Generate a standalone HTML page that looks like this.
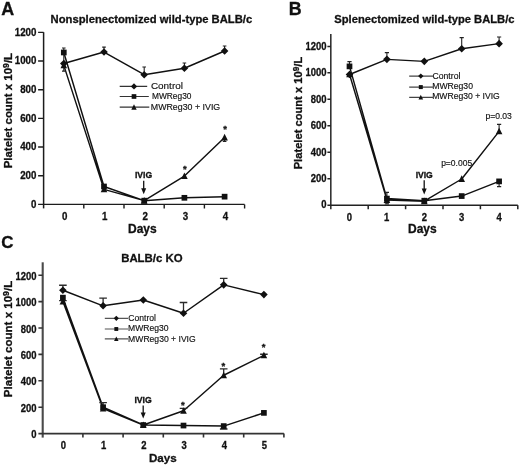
<!DOCTYPE html>
<html><head><meta charset="utf-8"><style>
html,body{margin:0;padding:0;background:#fff;}
body{width:520px;height:467px;overflow:hidden;}
svg{display:block;font-family:"Liberation Sans", sans-serif;filter:grayscale(1);}
</style></head><body>
<svg width="520" height="467" viewBox="0 0 520 467" font-family='"Liberation Sans", sans-serif'>
<rect width="520" height="467" fill="#fff"/>
<path stroke="#1c1c1c" stroke-width="1.5" fill="none" d="M43.6 32.2V208.4"/>
<path stroke="#1c1c1c" stroke-width="1.4" fill="none" d="M43.6 204.4H244.6 M83.8 204.4V208.4 M124 204.4V208.4 M164.2 204.4V208.4 M204.4 204.4V208.4 M244.6 204.4V208.4 M38.1 204.4H43.6 M38.1 175.73H43.6 M38.1 147.07H43.6 M38.1 118.4H43.6 M38.1 89.74H43.6 M38.1 61.07H43.6 M38.1 32.4H43.6"/>
<text x="30.99" y="207.65" font-size="10.7" font-weight="bold" stroke-width="0.3" textLength="5.42" lengthAdjust="spacingAndGlyphs" fill="#111" stroke="#111">0</text>
<text x="20.18" y="178.98" font-size="10.7" font-weight="bold" stroke-width="0.3" textLength="16.25" lengthAdjust="spacingAndGlyphs" fill="#111" stroke="#111">200</text>
<text x="20.18" y="150.31" font-size="10.7" font-weight="bold" stroke-width="0.3" textLength="16.25" lengthAdjust="spacingAndGlyphs" fill="#111" stroke="#111">400</text>
<text x="20.18" y="121.65" font-size="10.7" font-weight="bold" stroke-width="0.3" textLength="16.25" lengthAdjust="spacingAndGlyphs" fill="#111" stroke="#111">600</text>
<text x="20.18" y="92.98" font-size="10.7" font-weight="bold" stroke-width="0.3" textLength="16.25" lengthAdjust="spacingAndGlyphs" fill="#111" stroke="#111">800</text>
<text x="14.72" y="64.31" font-size="10.7" font-weight="bold" stroke-width="0.3" textLength="21.66" lengthAdjust="spacingAndGlyphs" fill="#111" stroke="#111">1000</text>
<text x="14.72" y="35.65" font-size="10.7" font-weight="bold" stroke-width="0.3" textLength="21.66" lengthAdjust="spacingAndGlyphs" fill="#111" stroke="#111">1200</text>
<text x="62" y="219.7" font-size="10.7" font-weight="bold" stroke-width="0.3" textLength="5.42" lengthAdjust="spacingAndGlyphs" fill="#111" stroke="#111">0</text>
<text x="102" y="219.7" font-size="10.7" font-weight="bold" stroke-width="0.3" textLength="5.42" lengthAdjust="spacingAndGlyphs" fill="#111" stroke="#111">1</text>
<text x="142.42" y="219.7" font-size="10.7" font-weight="bold" stroke-width="0.3" textLength="5.42" lengthAdjust="spacingAndGlyphs" fill="#111" stroke="#111">2</text>
<text x="182.65" y="219.7" font-size="10.7" font-weight="bold" stroke-width="0.3" textLength="5.42" lengthAdjust="spacingAndGlyphs" fill="#111" stroke="#111">3</text>
<text x="222.75" y="219.7" font-size="10.7" font-weight="bold" stroke-width="0.3" textLength="5.42" lengthAdjust="spacingAndGlyphs" fill="#111" stroke="#111">4</text>
<text x="128.02" y="232.7" font-size="11.99" font-weight="bold" stroke-width="0.3" fill="#111" stroke="#111">Days</text>
<text transform="translate(12.2 168.34) rotate(-90)" font-size="11.45" font-weight="bold" fill="#111" stroke="#111" stroke-width="0.3">Platelet count x 10<tspan font-size="8.59" dy="-3.44">9</tspan><tspan dy="3.44">/L</tspan></text>
<text x="50.57" y="22.7" font-size="11.24" font-weight="bold" stroke-width="0.3" fill="#111" stroke="#111">Nonsplenectomized wild-type BALB/c</text>
<text x="1.25" y="14.6" font-size="17.91" font-weight="bold" stroke-width="0.3" fill="#111" stroke="#111">A</text>
<path stroke="#111" stroke-width="1.45" fill="none" stroke-linejoin="round" d="M63.8 63.51L104 52.04L144.2 74.69L184.4 68.24L224.6 51.04 M63.8 52.47L104 186.48L144.2 200.67L184.4 197.81L224.6 196.66 M63.8 65.37L104 189.35L144.2 200.67L184.4 176.02L224.6 137.46"/>
<path stroke="#222" stroke-width="1.1" fill="none" d="M63.8 63.51V48.03M62 48.03h3.6 M104 52.04V47.17M102.2 47.17h3.6 M144.2 74.69V66.95M142.4 66.95h3.6 M184.4 68.24V62.93M182.6 62.93h3.6 M224.6 51.04V46.02M222.8 46.02h3.6 M63.8 66.8V71.1M62 71.1h3.6 M224.6 137.46V141.33M222.8 141.33h3.6"/>
<g fill="#111"><path d="M60 63.51L63.8 59.71L67.6 63.51L63.8 67.31Z"/><path d="M100.2 52.04L104 48.24L107.8 52.04L104 55.84Z"/><path d="M140.4 74.69L144.2 70.89L148 74.69L144.2 78.49Z"/><path d="M180.6 68.24L184.4 64.44L188.2 68.24L184.4 72.04Z"/><path d="M220.8 51.04L224.6 47.24L228.4 51.04L224.6 54.84Z"/><rect x="60.95" y="49.62" width="5.7" height="5.7"/><rect x="101.15" y="183.63" width="5.7" height="5.7"/><rect x="141.35" y="197.82" width="5.7" height="5.7"/><rect x="181.55" y="194.96" width="5.7" height="5.7"/><rect x="221.75" y="193.81" width="5.7" height="5.7"/><path d="M60.5 68.34L67.1 68.34L63.8 61.74Z"/><path d="M100.7 192.32L107.3 192.32L104 185.72Z"/><path d="M140.9 203.64L147.5 203.64L144.2 197.04Z"/><path d="M181.1 178.99L187.7 178.99L184.4 172.39Z"/><path d="M221.3 140.43L227.9 140.43L224.6 133.83Z"/></g>
<path stroke="#333" stroke-width="1.2" fill="none" d="M119.7 86.4H147.2 M119.7 96.5H148.8 M119.7 107.2H149.3"/>
<g fill="#111"><path d="M130.88 86.4L134 83.28L137.12 86.4L134 89.52Z"/><rect x="131.66" y="94.16" width="4.67" height="4.67"/><path d="M131.29 109.64L136.71 109.64L134 104.22Z"/></g>
<text x="150.9" y="89.4" font-size="9.95" stroke-width="0.15" fill="#111" stroke="#111">Control</text>
<text x="152.03" y="99.4" font-size="8.36" stroke-width="0.15" fill="#111" stroke="#111">MWReg30</text>
<text x="150.79" y="110" font-size="8.83" stroke-width="0.15" fill="#111" stroke="#111">MWReg30 + IVIG</text>
<text x="134.94" y="177.9" font-size="8.64" font-weight="bold" stroke-width="0.3" fill="#111" stroke="#111">IVIG</text>
<path stroke="#111" stroke-width="1.3" d="M143.7 180.7V190.3"/>
<path fill="#111" d="M141.2 188.3L146.2 188.3L143.7 194.3Z"/>
<text x="182.95" y="171.8" font-size="9.5" font-weight="bold" stroke-width="0.3" fill="#111" stroke="#111">*</text>
<text x="223.15" y="131.7" font-size="9.5" font-weight="bold" stroke-width="0.3" fill="#111" stroke="#111">*</text>
<path stroke="#333" stroke-width="1.6" fill="none" d="M330.8 34V209.2"/>
<path stroke="#222" stroke-width="1.5" fill="none" d="M330.8 205.2H517.8 M368.2 205.2V209.2 M405.6 205.2V209.2 M443 205.2V209.2 M480.4 205.2V209.2 M517.8 205.2V209.2 M327.4 205.2H330.8 M327.4 178.73H330.8 M327.4 152.27H330.8 M327.4 125.8H330.8 M327.4 99.34H330.8 M327.4 72.87H330.8 M327.4 46.4H330.8"/>
<text x="321.23" y="208.44" font-size="10.4" font-weight="bold" stroke-width="0.3" textLength="5.26" lengthAdjust="spacingAndGlyphs" fill="#111" stroke="#111">0</text>
<text x="310.72" y="181.97" font-size="10.4" font-weight="bold" stroke-width="0.3" textLength="15.79" lengthAdjust="spacingAndGlyphs" fill="#111" stroke="#111">200</text>
<text x="310.72" y="155.51" font-size="10.4" font-weight="bold" stroke-width="0.3" textLength="15.79" lengthAdjust="spacingAndGlyphs" fill="#111" stroke="#111">400</text>
<text x="310.72" y="129.04" font-size="10.4" font-weight="bold" stroke-width="0.3" textLength="15.79" lengthAdjust="spacingAndGlyphs" fill="#111" stroke="#111">600</text>
<text x="310.72" y="102.58" font-size="10.4" font-weight="bold" stroke-width="0.3" textLength="15.79" lengthAdjust="spacingAndGlyphs" fill="#111" stroke="#111">800</text>
<text x="305.42" y="76.11" font-size="10.4" font-weight="bold" stroke-width="0.3" textLength="21.05" lengthAdjust="spacingAndGlyphs" fill="#111" stroke="#111">1000</text>
<text x="305.42" y="49.64" font-size="10.4" font-weight="bold" stroke-width="0.3" textLength="21.05" lengthAdjust="spacingAndGlyphs" fill="#111" stroke="#111">1200</text>
<text x="346.87" y="221" font-size="10.4" font-weight="bold" stroke-width="0.3" textLength="5.26" lengthAdjust="spacingAndGlyphs" fill="#111" stroke="#111">0</text>
<text x="384.08" y="221" font-size="10.4" font-weight="bold" stroke-width="0.3" textLength="5.26" lengthAdjust="spacingAndGlyphs" fill="#111" stroke="#111">1</text>
<text x="421.7" y="221" font-size="10.4" font-weight="bold" stroke-width="0.3" textLength="5.26" lengthAdjust="spacingAndGlyphs" fill="#111" stroke="#111">2</text>
<text x="459.12" y="221" font-size="10.4" font-weight="bold" stroke-width="0.3" textLength="5.26" lengthAdjust="spacingAndGlyphs" fill="#111" stroke="#111">3</text>
<text x="496.43" y="221" font-size="10.4" font-weight="bold" stroke-width="0.3" textLength="5.26" lengthAdjust="spacingAndGlyphs" fill="#111" stroke="#111">4</text>
<text x="408.02" y="232.7" font-size="11.99" font-weight="bold" stroke-width="0.3" fill="#111" stroke="#111">Days</text>
<text transform="translate(302.4 169.33) rotate(-90)" font-size="11.17" font-weight="bold" fill="#111" stroke="#111" stroke-width="0.3">Platelet count x 10<tspan font-size="8.38" dy="-3.35">9</tspan><tspan dy="3.35">/L</tspan></text>
<text x="334.26" y="23.1" font-size="11.19" font-weight="bold" stroke-width="0.3" fill="#111" stroke="#111">Splenectomized wild-type BALB/c</text>
<text x="288.84" y="14.5" font-size="17.87" font-weight="bold" stroke-width="0.3" fill="#111" stroke="#111">B</text>
<path stroke="#111" stroke-width="1.45" fill="none" stroke-linejoin="round" d="M349.5 74.46L386.9 59.37L424.3 61.36L461.7 48.79L499.1 43.63 M349.5 66.39L386.9 198.58L424.3 200.7L461.7 196.07L499.1 181.38 M349.5 74.19L386.9 199.91L424.3 201.23L461.7 179L499.1 131.36"/>
<path stroke="#222" stroke-width="1.1" fill="none" d="M349.5 66.39V61.62M347.4 61.62h4.2 M386.9 59.37V52.62M384.8 52.62h4.2 M461.7 48.79V37.67M459.6 37.67h4.2 M499.1 43.63V37.01M497 37.01h4.2 M499.1 131.36V124.35M497 124.35h4.2 M499.1 181.38V186.67M497 186.67h4.2 M386.9 199.91V203.88M384.8 203.88h4.2 M386.9 198.58V192.36M384.8 192.36h4.2"/>
<g fill="#111"><path d="M345.7 74.46L349.5 70.66L353.3 74.46L349.5 78.26Z"/><path d="M383.1 59.37L386.9 55.57L390.7 59.37L386.9 63.17Z"/><path d="M420.5 61.36L424.3 57.56L428.1 61.36L424.3 65.16Z"/><path d="M457.9 48.79L461.7 44.99L465.5 48.79L461.7 52.59Z"/><path d="M495.3 43.63L499.1 39.83L502.9 43.63L499.1 47.43Z"/><rect x="346.65" y="63.54" width="5.7" height="5.7"/><rect x="384.05" y="195.73" width="5.7" height="5.7"/><rect x="421.45" y="197.85" width="5.7" height="5.7"/><rect x="458.85" y="193.22" width="5.7" height="5.7"/><rect x="496.25" y="178.53" width="5.7" height="5.7"/><path d="M346.2 77.16L352.8 77.16L349.5 70.56Z"/><path d="M383.6 202.88L390.2 202.88L386.9 196.28Z"/><path d="M421 204.2L427.6 204.2L424.3 197.6Z"/><path d="M458.4 181.97L465 181.97L461.7 175.37Z"/><path d="M495.8 134.33L502.4 134.33L499.1 127.73Z"/></g>
<path stroke="#444" stroke-width="1.2" fill="none" d="M409.2 76.1H432.9 M409.2 87.1H432.9 M409.2 97.4H432.9"/>
<g fill="#111"><path d="M418.14 76.1L420.8 73.44L423.46 76.1L420.8 78.76Z"/><rect x="418.81" y="85.1" width="3.99" height="3.99"/><path d="M418.49 99.48L423.11 99.48L420.8 94.86Z"/></g>
<text x="432.47" y="79.2" font-size="8.66" stroke-width="0.15" fill="#111" stroke="#111">Control</text>
<text x="432.21" y="88.9" font-size="8.64" stroke-width="0.15" fill="#111" stroke="#111">MWReg30</text>
<text x="432.21" y="99.2" font-size="8.6" stroke-width="0.15" fill="#111" stroke="#111">MWReg30 + IVIG</text>
<text x="415.64" y="178.1" font-size="8.59" font-weight="bold" stroke-width="0.3" fill="#111" stroke="#111">IVIG</text>
<path stroke="#111" stroke-width="1.3" d="M424.2 180.2V190.4"/>
<path fill="#111" d="M421.7 188.4L426.7 188.4L424.2 194.4Z"/>
<text x="441.15" y="165.8" font-size="8.51" stroke-width="0.15" fill="#111" stroke="#111">p=0.005</text>
<text x="485.44" y="119.2" font-size="8.57" stroke-width="0.15" fill="#111" stroke="#111">p=0.03</text>
<path stroke="#4a4a4a" stroke-width="2.1" fill="none" d="M42.7 262.3V437.6"/>
<path stroke="#333" stroke-width="1.6" fill="none" d="M42.7 433.6H283.9 M82.9 433.6V437.6 M123.1 433.6V437.6 M163.3 433.6V437.6 M203.5 433.6V437.6 M243.7 433.6V437.6 M283.9 433.6V437.6 M38.4 433.6H42.7 M38.4 407.2H42.7 M38.4 380.8H42.7 M38.4 354.4H42.7 M38.4 328H42.7 M38.4 301.6H42.7 M38.4 275.2H42.7"/>
<text x="31.33" y="438.14" font-size="10.4" font-weight="bold" stroke-width="0.3" textLength="5.26" lengthAdjust="spacingAndGlyphs" fill="#111" stroke="#111">0</text>
<text x="20.82" y="411.74" font-size="10.4" font-weight="bold" stroke-width="0.3" textLength="15.79" lengthAdjust="spacingAndGlyphs" fill="#111" stroke="#111">200</text>
<text x="20.82" y="385.34" font-size="10.4" font-weight="bold" stroke-width="0.3" textLength="15.79" lengthAdjust="spacingAndGlyphs" fill="#111" stroke="#111">400</text>
<text x="20.82" y="358.94" font-size="10.4" font-weight="bold" stroke-width="0.3" textLength="15.79" lengthAdjust="spacingAndGlyphs" fill="#111" stroke="#111">600</text>
<text x="20.82" y="332.54" font-size="10.4" font-weight="bold" stroke-width="0.3" textLength="15.79" lengthAdjust="spacingAndGlyphs" fill="#111" stroke="#111">800</text>
<text x="15.52" y="306.14" font-size="10.4" font-weight="bold" stroke-width="0.3" textLength="21.05" lengthAdjust="spacingAndGlyphs" fill="#111" stroke="#111">1000</text>
<text x="15.52" y="279.74" font-size="10.4" font-weight="bold" stroke-width="0.3" textLength="21.05" lengthAdjust="spacingAndGlyphs" fill="#111" stroke="#111">1200</text>
<text x="60.87" y="448.6" font-size="10.4" font-weight="bold" stroke-width="0.3" textLength="5.26" lengthAdjust="spacingAndGlyphs" fill="#111" stroke="#111">0</text>
<text x="100.88" y="448.6" font-size="10.4" font-weight="bold" stroke-width="0.3" textLength="5.26" lengthAdjust="spacingAndGlyphs" fill="#111" stroke="#111">1</text>
<text x="141.3" y="448.6" font-size="10.4" font-weight="bold" stroke-width="0.3" textLength="5.26" lengthAdjust="spacingAndGlyphs" fill="#111" stroke="#111">2</text>
<text x="181.52" y="448.6" font-size="10.4" font-weight="bold" stroke-width="0.3" textLength="5.26" lengthAdjust="spacingAndGlyphs" fill="#111" stroke="#111">3</text>
<text x="221.63" y="448.6" font-size="10.4" font-weight="bold" stroke-width="0.3" textLength="5.26" lengthAdjust="spacingAndGlyphs" fill="#111" stroke="#111">4</text>
<text x="261.85" y="448.6" font-size="10.4" font-weight="bold" stroke-width="0.3" textLength="5.26" lengthAdjust="spacingAndGlyphs" fill="#111" stroke="#111">5</text>
<text x="148.95" y="462" font-size="11.6" font-weight="bold" stroke-width="0.3" fill="#111" stroke="#111">Days</text>
<text transform="translate(12.3 397.15) rotate(-90)" font-size="11.54" font-weight="bold" fill="#111" stroke="#111" stroke-width="0.3">Platelet count x 10<tspan font-size="8.66" dy="-3.46">9</tspan><tspan dy="3.46">/L</tspan></text>
<text x="121.16" y="262.4" font-size="11.4" font-weight="bold" stroke-width="0.3" fill="#111" stroke="#111">BALB/c KO</text>
<text x="1.22" y="247.6" font-size="16.95" font-weight="bold" stroke-width="0.3" fill="#111" stroke="#111">C</text>
<path stroke="#111" stroke-width="1.45" fill="none" stroke-linejoin="round" d="M62.9 290.25L103.1 305.82L143.3 300.02L183.5 313.22L223.7 284.84L263.9 294.6 M62.9 297.64L103.1 407.2L143.3 425.02L183.5 425.55L223.7 426.08L263.9 412.88 M62.9 301.6L103.1 408.52L143.3 425.02L183.5 410.76L223.7 375.26L263.9 355.32"/>
<path stroke="#2a2a2a" stroke-width="1.3" fill="none" d="M62.9 290.25V285.23M59.1 285.23h7.6 M62.9 297.64V300.54M59.1 300.54h7.6 M103.1 305.82V298.17M99.3 298.17h7.6 M183.5 313.22V302.52M179.7 302.52h7.6 M223.7 284.84V278.37M219.9 278.37h7.6 M223.7 375.26V368.92M219.9 368.92h7.6 M223.7 426.08V428.98M219.9 428.98h7.6 M103.1 407.2V402.58M99.3 402.58h7.6 M183.5 410.76V408.39M179.7 408.39h7.6 M263.9 355.32V354.27M260.1 354.27h7.6"/>
<g fill="#111"><path d="M59.1 290.25L62.9 286.45L66.7 290.25L62.9 294.05Z"/><path d="M99.3 305.82L103.1 302.02L106.9 305.82L103.1 309.62Z"/><path d="M139.5 300.02L143.3 296.22L147.1 300.02L143.3 303.82Z"/><path d="M179.7 313.22L183.5 309.42L187.3 313.22L183.5 317.02Z"/><path d="M219.9 284.84L223.7 281.04L227.5 284.84L223.7 288.64Z"/><path d="M260.1 294.6L263.9 290.8L267.7 294.6L263.9 298.4Z"/><rect x="60.05" y="294.79" width="5.7" height="5.7"/><rect x="100.25" y="404.35" width="5.7" height="5.7"/><rect x="140.45" y="422.17" width="5.7" height="5.7"/><rect x="180.65" y="422.7" width="5.7" height="5.7"/><rect x="220.85" y="423.23" width="5.7" height="5.7"/><rect x="261.05" y="410.03" width="5.7" height="5.7"/><path d="M59.6 304.57L66.2 304.57L62.9 297.97Z"/><path d="M99.8 411.49L106.4 411.49L103.1 404.89Z"/><path d="M140 427.99L146.6 427.99L143.3 421.39Z"/><path d="M180.2 413.73L186.8 413.73L183.5 407.13Z"/><path d="M220.4 378.23L227 378.23L223.7 371.63Z"/><path d="M260.6 358.29L267.2 358.29L263.9 351.69Z"/></g>
<path stroke="#555" stroke-width="1.2" fill="none" d="M104.8 318.3H128 M104.8 329H128 M104.8 338.9H128"/>
<g fill="#111"><path d="M113.72 318.3L116.3 315.72L118.88 318.3L116.3 320.88Z"/><rect x="114.36" y="327.06" width="3.88" height="3.88"/><path d="M114.06 340.92L118.54 340.92L116.3 336.43Z"/></g>
<text x="128.37" y="321" font-size="8.57" stroke-width="0.15" fill="#111" stroke="#111">Control</text>
<text x="128.11" y="331.4" font-size="8.58" stroke-width="0.15" fill="#111" stroke="#111">MWReg30</text>
<text x="128.11" y="341.6" font-size="8.61" stroke-width="0.15" fill="#111" stroke="#111">MWReg30 + IVIG</text>
<text x="134.43" y="402.9" font-size="8.69" font-weight="bold" stroke-width="0.3" fill="#111" stroke="#111">IVIG</text>
<path stroke="#111" stroke-width="1.3" d="M143.2 405.5V414.5"/>
<path fill="#111" d="M140.7 412.5L145.7 412.5L143.2 418.5Z"/>
<text x="180.95" y="408.2" font-size="9.5" font-weight="bold" stroke-width="0.3" fill="#111" stroke="#111">*</text>
<text x="221.55" y="368.7" font-size="9.5" font-weight="bold" stroke-width="0.3" fill="#111" stroke="#111">*</text>
<text x="261.75" y="349.9" font-size="9.5" font-weight="bold" stroke-width="0.3" fill="#111" stroke="#111">*</text>
</svg>
</body></html>
